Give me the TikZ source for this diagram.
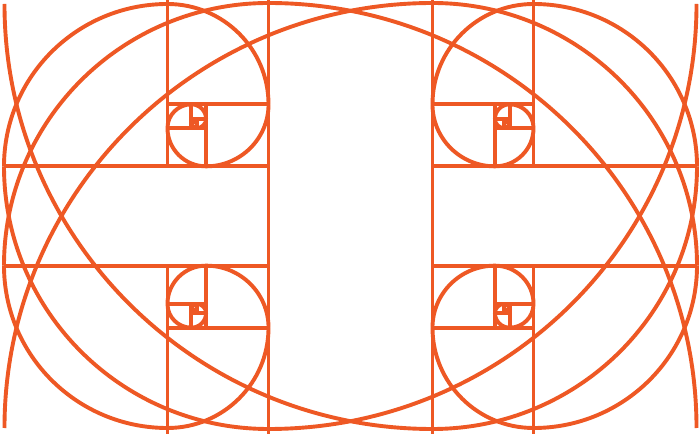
\documentclass[tikz,border=0pt]{standalone}
\definecolor{goldorange}{RGB}{238,88,36}
\tikzset{
  gline/.style={draw=goldorange, line width=3.9pt},
  inward/.style={shift={(0.447214,0.276393)},scale=0.145898,shift={(-0.447214,-0.276393)}}
}
\newcommand\goldlevel{%
  \draw[gline] (0.618034,0) -- (0.618034,1);
  \draw[gline] (0,0.381966) -- (0.618034,0.381966);
  \draw[gline] (0.381966,0) -- (0.381966,0.381966);
  \draw[gline] (0.381966,0.236068) -- (0.618034,0.236068);
  \draw[gline] (1.618034,0) arc[start angle=0,end angle=90,radius=1];
  \draw[gline] (0.618034,1) arc[start angle=90,end angle=180,radius=0.618034];
  \draw[gline] (0,0.381966) arc[start angle=180,end angle=270,radius=0.381966];
  \draw[gline] (0.381966,0) arc[start angle=270,end angle=360,radius=0.236068];
}
\newcommand\goldspiral{%
  \draw[gline] (0.618034,-0.03) -- (0.618034,1.03);
  \draw[gline] (0.381966,-0.02) -- (0.381966,0.381966);
  \goldlevel
  \begin{scope}[inward]
    \goldlevel
    \begin{scope}[inward]
      \goldlevel
      \begin{scope}[inward]
        \goldlevel
      \end{scope}
    \end{scope}
  \end{scope}
}
\begin{document}
\begin{tikzpicture}[x=1pt,y=1pt]
  \useasboundingbox (0,0) rectangle (700,433);
  \fill[white] (0,0) rectangle (700,433);
  \clip (0,0) rectangle (700,433);
  \begin{scope}[shift={(4,429)},xscale=428,yscale=-425]
    \goldspiral
  \end{scope}
  \begin{scope}[shift={(697,429)},xscale=-428,yscale=-425]
    \goldspiral
  \end{scope}
  \begin{scope}[shift={(4,5)},xscale=428,yscale=425]
    \goldspiral
  \end{scope}
  \begin{scope}[shift={(697,5)},xscale=-428,yscale=425]
    \goldspiral
  \end{scope}
\end{tikzpicture}
\end{document}
